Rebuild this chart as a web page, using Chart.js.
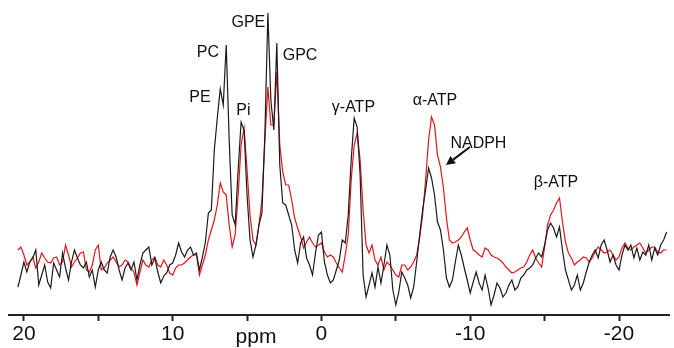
<!DOCTYPE html>
<html>
<head>
<meta charset="utf-8">
<script src="https://cdn.jsdelivr.net/npm/chart.js@4.4.1/dist/chart.umd.min.js"></script>
<style>
  html, body { margin: 0; padding: 0; background: #fff; }
  #spectrum { display: block; }
</style>
</head>
<body>
<canvas id="spectrum" width="674" height="348"></canvas>
<script>
// chemical shift of each sample (ppm)
const ppm = [
  20.4, 20.2, 20.0, 19.8, 19.6, 19.4, 19.2, 19.0, 18.8, 18.6,
  18.4, 18.2, 18.0, 17.8, 17.6, 17.4, 17.2, 17.0, 16.8, 16.6,
  16.4, 16.2, 16.0, 15.8, 15.6, 15.4, 15.2, 15.0, 14.8, 14.6,
  14.4, 14.2, 14.0, 13.8, 13.6, 13.4, 13.2, 13.0, 12.8, 12.6,
  12.4, 12.2, 12.0, 11.8, 11.6, 11.4, 11.2, 11.0, 10.8, 10.6,
  10.4, 10.2, 10.0, 9.8, 9.6, 9.4, 9.2, 9.0, 8.8, 8.6,
  8.4, 8.2, 8.0, 7.8, 7.6, 7.4, 7.2, 7.0, 6.8, 6.6,
  6.4, 6.2, 6.0, 5.8, 5.6, 5.4, 5.2, 5.0, 4.8, 4.6,
  4.4, 4.2, 4.0, 3.8, 3.6, 3.4, 3.2, 3.0, 2.8, 2.6,
  2.4, 2.2, 2.0, 1.8, 1.6, 1.4, 1.2, 1.0, 0.8, 0.6,
  0.4, 0.2, 0.0, -0.2, -0.4, -0.6, -0.8, -1.0, -1.2, -1.4,
  -1.6, -1.8, -2.0, -2.2, -2.4, -2.6, -2.8, -3.0, -3.2, -3.4,
  -3.6, -3.8, -4.0, -4.2, -4.4, -4.6, -4.8, -5.0, -5.2, -5.4,
  -5.6, -5.8, -6.0, -6.2, -6.4, -6.6, -6.8, -7.0, -7.2, -7.4,
  -7.6, -7.8, -8.0, -8.2, -8.4, -8.6, -8.8, -9.0, -9.2, -9.4,
  -9.6, -9.8, -10.0, -10.2, -10.4, -10.6, -10.8, -11.0, -11.2, -11.4,
  -11.6, -11.8, -12.0, -12.2, -12.4, -12.6, -12.8, -13.0, -13.2, -13.4,
  -13.6, -13.8, -14.0, -14.2, -14.4, -14.6, -14.8, -15.0, -15.2, -15.4,
  -15.6, -15.8, -16.0, -16.2, -16.4, -16.6, -16.8, -17.0, -17.2, -17.4,
  -17.6, -17.8, -18.0, -18.2, -18.4, -18.6, -18.8, -19.0, -19.2, -19.4,
  -19.6, -19.8, -20.0, -20.2, -20.4, -20.6, -20.8, -21.0, -21.2, -21.4,
  -21.6, -21.8, -22.0, -22.2, -22.4, -22.6, -22.8, -23.0, -23.2
];

// black spectrum (intensity, arbitrary units)
const blackTrace = [
  28, 40, 53, 43, 53, 57, 65, 30, 40, 50,
  33, 27, 52, 45, 38, 62, 47, 35, 53, 65,
  57, 50, 47, 53, 38, 45, 28, 45, 53, 45,
  42, 58, 65, 58, 45, 35, 47, 52, 45, 53,
  35, 50, 62, 65, 68, 50, 57, 43, 32, 39,
  42, 50, 52, 60, 72, 63, 58, 65, 68, 60,
  62, 45, 58, 73, 102, 105, 165, 197, 226, 210,
  270, 175, 100, 90, 145, 193, 185, 120, 75, 58,
  70, 90, 102, 182, 302, 215, 185, 272, 150, 112,
  110, 100, 90, 65, 52, 72, 78, 57, 50, 40,
  62, 80, 83, 53, 40, 32, 35, 45, 55, 75,
  72, 100, 155, 197, 188, 140, 40, 18, 30, 42,
  28, 48, 32, 50, 70, 60, 25, 10, 23, 43,
  37, 30, 17, 28, 53, 80, 105, 125, 147, 137,
  120, 93, 85, 65, 37, 28, 35, 53, 70, 60,
  47, 35, 22, 33, 43, 32, 25, 40, 27, 10,
  20, 32, 27, 18, 22, 30, 35, 25, 28, 37,
  40, 45, 47, 50, 57, 62, 58, 70, 85, 92,
  87, 78, 88, 65, 45, 35, 25, 30, 40, 25,
  32, 43, 53, 60, 65, 57, 70, 75, 65, 53,
  60, 50, 45, 60, 70, 65, 70, 57, 67, 55,
  63, 60, 70, 55, 67, 60, 70, 75, 83
];

// red spectrum (intensity, arbitrary units)
const redTrace = [
  65, 68, 60, 50, 53, 58, 47, 53, 62, 57,
  53, 52, 57, 58, 50, 53, 70, 60, 48, 53,
  57, 62, 63, 45, 43, 50, 65, 70, 45, 47,
  52, 55, 58, 53, 48, 50, 55, 53, 47, 43,
  30, 43, 55, 50, 48, 55, 58, 50, 48, 55,
  50, 42, 40, 47, 50, 50, 52, 55, 58, 60,
  60, 40, 50, 60, 75, 85, 95, 110, 132, 123,
  120, 90, 68, 80, 120, 170, 187, 145, 100, 75,
  70, 90, 115, 175, 228, 190, 190, 243, 170, 143,
  130, 130, 115, 97, 87, 78, 67, 73, 78, 72,
  68, 70, 72, 63, 58, 60, 58, 52, 47, 43,
  60, 80, 135, 170, 182, 155, 105, 70, 62, 70,
  55, 50, 58, 45, 53, 50, 45, 40, 38, 50,
  50, 45, 48, 53, 60, 77, 100, 135, 175, 198,
  190, 160, 148, 127, 97, 75, 72, 73, 75, 78,
  83, 87, 75, 65, 63, 60, 58, 67, 65, 60,
  58, 57, 55, 52, 48, 45, 42, 43, 45, 47,
  48, 53, 60, 65, 57, 52, 48, 68, 90, 100,
  105, 112, 117, 93, 73, 62, 57, 50, 53, 55,
  58, 57, 53, 57, 63, 68, 65, 62, 63, 65,
  60, 55, 58, 67, 72, 67, 65, 68, 70, 72,
  67, 62, 65, 68, 68, 63, 62, 65, 65
];

// peak names, placed in data units (ppm, intensity of the text baseline)
const peakNames = ['PE', 'PC', 'Pi', 'GPE', 'GPC', 'γ-ATP', 'α-ATP', 'NADPH', 'β-ATP'];
const peakNamePpm = [8.17, 7.63, 5.25, 4.91, 1.44, -2.15, -7.63, -10.55, -15.76];
const peakNameLevel = [213, 258, 200, 288, 255, 203, 210, 167, 128];

// arrow pointing to the NADPH shoulder: [ppm, intensity] tail -> head
const arrowTail = [-9.98, 168];
const arrowHead = [-8.37, 150];

document.addEventListener('DOMContentLoaded', function () {
  const fontFamily = '"Liberation Sans", Arial, sans-serif';

  const toPoints = values => values.map((v, i) => ({ x: ppm[i], y: v }));

  // draws the peak names, the NADPH arrow and the "ppm" title
  const annotations = {
    id: 'annotations',
    afterDraw(chart) {
      const { ctx, scales: { x, y } } = chart;
      ctx.save();
      ctx.fillStyle = '#111';
      ctx.font = '16px ' + fontFamily;
      ctx.textAlign = 'center';
      ctx.textBaseline = 'alphabetic';
      peakNames.forEach((name, i) => {
        ctx.fillText(name, x.getPixelForValue(peakNamePpm[i]), y.getPixelForValue(peakNameLevel[i]));
      });

      // arrow
      const x0 = x.getPixelForValue(arrowTail[0]), y0 = y.getPixelForValue(arrowTail[1]);
      const x1 = x.getPixelForValue(arrowHead[0]), y1 = y.getPixelForValue(arrowHead[1]);
      const ang = Math.atan2(y1 - y0, x1 - x0);
      const headLen = 9, headW = 4.5;
      const bx = x1 - headLen * Math.cos(ang), by = y1 - headLen * Math.sin(ang);
      ctx.strokeStyle = '#111';
      ctx.lineWidth = 2;
      ctx.beginPath();
      ctx.moveTo(x0, y0);
      ctx.lineTo(bx, by);
      ctx.stroke();
      ctx.beginPath();
      ctx.moveTo(x1, y1);
      ctx.lineTo(bx + headW * Math.sin(ang), by - headW * Math.cos(ang));
      ctx.lineTo(bx - headW * Math.sin(ang), by + headW * Math.cos(ang));
      ctx.closePath();
      ctx.fill();

      // axis title sits between the 10 and 0 labels
      ctx.font = '21px ' + fontFamily;
      ctx.fillText('ppm', x.getPixelForValue(4.4), 343);
      ctx.restore();
    }
  };

  const ctx = document.getElementById('spectrum').getContext('2d');
  new Chart(ctx, {
    type: 'line',
    data: {
      datasets: [{
        label: 'black',
        data: toPoints(blackTrace),
        borderColor: '#1b1b1b',
        borderWidth: 1.2,
        pointRadius: 0,
        tension: 0
      }, {
        label: 'red',
        data: toPoints(redTrace),
        borderColor: '#e3141b',
        borderWidth: 1.2,
        pointRadius: 0,
        tension: 0
      }]
    },
    options: {
      responsive: false,
      animation: false,
      devicePixelRatio: 1,
      layout: {
        padding: { left: 9, right: 5, top: 0, bottom: 0 }
      },
      plugins: {
        legend: { display: false },
        tooltip: { enabled: false }
      },
      scales: {
        x: {
          type: 'linear',
          reverse: true,
          min: -23.36,
          max: 21.0,
          // keep the axis line where the original has it
          afterFit: scale => { scale.height = 33; },
          border: { display: true, color: '#222', width: 2 },
          grid: {
            display: true,
            drawOnChartArea: false,
            drawTicks: true,
            tickLength: 6,
            tickWidth: 2,
            tickColor: '#222'
          },
          ticks: {
            stepSize: 5,
            includeBounds: false,
            autoSkip: false,
            maxRotation: 0,
            padding: 3,
            color: '#111',
            font: { family: fontFamily, size: 21, lineHeight: 1 },
            callback: value => (value % 10 === 0 ? String(value) : '')
          }
        },
        y: {
          display: false,
          min: 0,
          max: 315
        }
      }
    },
    plugins: [annotations]
  });
});
</script>
</body>
</html>
